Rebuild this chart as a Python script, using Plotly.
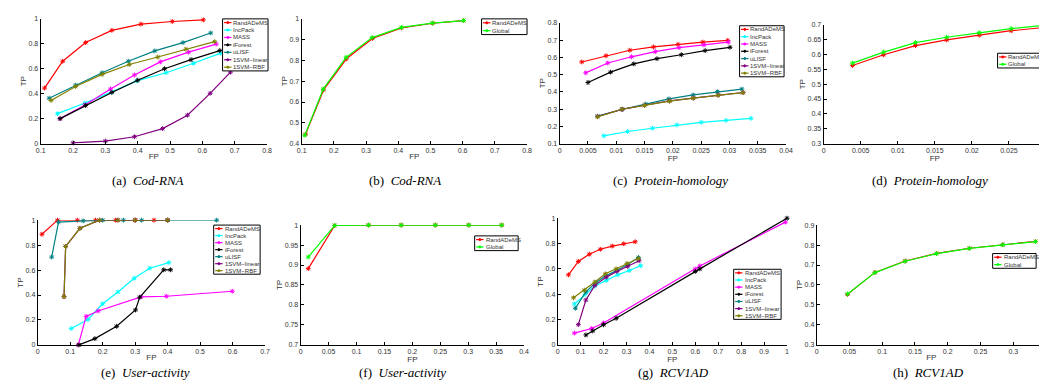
import plotly.graph_objects as go

W, H = 1047, 388

# ---------------- data ----------------
# (a) Cod-RNA
a_rand_fp = [0.112, 0.168, 0.239, 0.320, 0.410, 0.507, 0.603]
a_rand_tp = [0.445, 0.660, 0.810, 0.908, 0.958, 0.979, 0.992]
a_inc_fp = [0.152, 0.237, 0.320, 0.397, 0.488, 0.573, 0.656]
a_inc_tp = [0.240, 0.325, 0.415, 0.503, 0.568, 0.644, 0.725]
a_mass_fp = [0.160, 0.237, 0.316, 0.390, 0.470, 0.557, 0.643]
a_mass_tp = [0.200, 0.310, 0.437, 0.550, 0.655, 0.733, 0.798]
a_ifo_fp = [0.160, 0.239, 0.320, 0.400, 0.483, 0.565, 0.654]
a_ifo_tp = [0.200, 0.306, 0.410, 0.508, 0.600, 0.673, 0.746]
a_ulisf_fp = [0.126, 0.208, 0.290, 0.371, 0.453, 0.540, 0.626]
a_ulisf_tp = [0.364, 0.469, 0.568, 0.660, 0.743, 0.810, 0.887]
a_lin_fp = [0.200, 0.300, 0.390, 0.477, 0.554, 0.624, 0.687]
a_lin_tp = [0.005, 0.020, 0.055, 0.120, 0.228, 0.403, 0.573]
a_rbf_fp = [0.132, 0.208, 0.290, 0.374, 0.462, 0.549, 0.638]
a_rbf_tp = [0.346, 0.458, 0.555, 0.634, 0.694, 0.757, 0.817]

# (b) Cod-RNA
b_rand_fp = [0.112, 0.168, 0.239, 0.320, 0.410, 0.507, 0.603]
b_rand_tp = [0.445, 0.658, 0.808, 0.906, 0.957, 0.979, 0.992]
b_glob_fp = [0.110, 0.167, 0.238, 0.319, 0.410, 0.506, 0.603]
b_glob_tp = [0.440, 0.662, 0.815, 0.910, 0.959, 0.980, 0.992]

# (c) Protein-homology
c_rand_fp = [0.0039, 0.0082, 0.0124, 0.0166, 0.0209, 0.0253, 0.0297]
c_rand_tp = [0.573, 0.609, 0.641, 0.660, 0.675, 0.688, 0.698]
c_inc_fp = [0.0078, 0.0120, 0.0164, 0.0207, 0.0250, 0.0294, 0.0338]
c_inc_tp = [0.145, 0.170, 0.189, 0.208, 0.223, 0.234, 0.246]
c_mass_fp = [0.0046, 0.0085, 0.0127, 0.0169, 0.0211, 0.0255, 0.0298]
c_mass_tp = [0.510, 0.567, 0.603, 0.633, 0.656, 0.672, 0.688]
c_ifo_fp = [0.0050, 0.0090, 0.0131, 0.0172, 0.0215, 0.0257, 0.0301]
c_ifo_tp = [0.454, 0.514, 0.562, 0.592, 0.615, 0.639, 0.658]
c_ulisf_fp = [0.0067, 0.0111, 0.0152, 0.0193, 0.0236, 0.0279, 0.0322]
c_ulisf_tp = [0.259, 0.299, 0.329, 0.359, 0.382, 0.401, 0.416]
c_lin_fp = [0.0067, 0.0110, 0.0150, 0.0194, 0.0236, 0.0280, 0.0324]
c_lin_tp = [0.257, 0.298, 0.322, 0.347, 0.364, 0.381, 0.396]
c_rbf_fp = [0.0067, 0.0110, 0.0150, 0.0194, 0.0236, 0.0280, 0.0324]
c_rbf_tp = [0.255, 0.299, 0.321, 0.346, 0.363, 0.380, 0.395]

# (d) Protein-homology
d_rand_fp = [0.0039, 0.0081, 0.0124, 0.0166, 0.0210, 0.0253, 0.0298]
d_rand_tp = [0.563, 0.599, 0.630, 0.649, 0.665, 0.680, 0.691]
d_glob_fp = [0.0039, 0.0081, 0.0124, 0.0166, 0.0210, 0.0253, 0.0298]
d_glob_tp = [0.571, 0.608, 0.640, 0.658, 0.673, 0.687, 0.698]

# (e) User-activity
e_rand_fp = [0.013, 0.061, 0.122, 0.178, 0.240, 0.300, 0.358, 0.400]
e_rand_tp = [0.887, 1.000, 1.000, 1.000, 1.000, 1.000, 1.000, 1.000]
e_inc_fp = [0.103, 0.155, 0.200, 0.247, 0.297, 0.345, 0.404]
e_inc_tp = [0.131, 0.204, 0.330, 0.424, 0.534, 0.615, 0.660]
e_mass_fp = [0.125, 0.149, 0.186, 0.318, 0.396, 0.599]
e_mass_tp = [0.000, 0.228, 0.272, 0.385, 0.390, 0.430]
e_ifo_fp = [0.127, 0.176, 0.243, 0.301, 0.314, 0.388, 0.409]
e_ifo_tp = [0.000, 0.050, 0.149, 0.280, 0.382, 0.602, 0.602]
e_ulisf_fp = [0.043, 0.064, 0.140, 0.200, 0.264, 0.320, 0.400, 0.551]
e_ulisf_tp = [0.704, 0.985, 0.995, 1.000, 1.000, 1.000, 1.000, 1.000]
e_lin_fp = [0.081, 0.086, 0.130, 0.190, 0.247, 0.300, 0.400]
e_lin_tp = [0.387, 0.790, 0.935, 1.000, 1.000, 1.000, 1.000]
e_rbf_fp = [0.081, 0.086, 0.130, 0.190, 0.247, 0.300, 0.400]
e_rbf_tp = [0.387, 0.790, 0.935, 1.000, 1.000, 1.000, 1.000]

# (f) User-activity
f_rand_fp = [0.0136, 0.061, 0.1215, 0.180, 0.241, 0.301, 0.360]
f_rand_tp = [0.891, 0.999, 1.000, 1.000, 1.000, 1.000, 1.000]
f_glob_fp = [0.0136, 0.061, 0.1215, 0.180, 0.241, 0.301, 0.360]
f_glob_tp = [0.920, 0.999, 1.000, 1.000, 1.000, 1.000, 1.000]

# (g) RCV1AD
g_rand_fp = [0.047, 0.090, 0.138, 0.186, 0.238, 0.288, 0.338]
g_rand_tp = [0.553, 0.659, 0.716, 0.755, 0.780, 0.798, 0.814]
g_inc_fp = [0.073, 0.119, 0.162, 0.212, 0.262, 0.312, 0.362]
g_inc_tp = [0.323, 0.398, 0.465, 0.509, 0.553, 0.587, 0.625]
g_mass_fp = [0.073, 0.148, 0.200, 0.600, 0.620, 0.993]
g_mass_tp = [0.093, 0.129, 0.173, 0.599, 0.623, 0.969]
g_ifo_fp = [0.123, 0.153, 0.200, 0.255, 0.600, 0.620, 1.000]
g_ifo_tp = [0.078, 0.110, 0.159, 0.210, 0.580, 0.600, 1.000]
g_ulisf_fp = [0.077, 0.123, 0.165, 0.210, 0.260, 0.305, 0.352]
g_ulisf_tp = [0.289, 0.419, 0.490, 0.545, 0.590, 0.635, 0.690]
g_lin_fp = [0.090, 0.123, 0.162, 0.212, 0.258, 0.305, 0.355]
g_lin_tp = [0.160, 0.354, 0.470, 0.535, 0.580, 0.620, 0.664]
g_rbf_fp = [0.069, 0.116, 0.162, 0.208, 0.255, 0.302, 0.352]
g_rbf_tp = [0.372, 0.432, 0.496, 0.561, 0.600, 0.643, 0.682]

# (h) RCV1AD
h_rand_fp = [0.047, 0.089, 0.135, 0.183, 0.233, 0.284, 0.334]
h_rand_tp = [0.553, 0.663, 0.720, 0.758, 0.784, 0.802, 0.818]
h_glob_fp = [0.047, 0.089, 0.135, 0.183, 0.233, 0.284, 0.334]
h_glob_tp = [0.555, 0.662, 0.719, 0.757, 0.783, 0.801, 0.817]

# tick values per panel
a_xticks = [0.1, 0.2, 0.3, 0.4, 0.5, 0.6, 0.7, 0.8]
a_yticks = [0, 0.2, 0.4, 0.6, 0.8, 1]
b_xticks = [0.1, 0.2, 0.3, 0.4, 0.5, 0.6, 0.7, 0.8]
b_yticks = [0.4, 0.5, 0.6, 0.7, 0.8, 0.9, 1]
c_xticks = [0, 0.005, 0.01, 0.015, 0.02, 0.025, 0.03, 0.035, 0.04]
c_yticks = [0.1, 0.2, 0.3, 0.4, 0.5, 0.6, 0.7, 0.8]
d_xticks = [0, 0.005, 0.01, 0.015, 0.02, 0.025, 0.03]
d_yticks = [0.3, 0.35, 0.4, 0.45, 0.5, 0.55, 0.6, 0.65, 0.7]
e_xticks = [0, 0.1, 0.2, 0.3, 0.4, 0.5, 0.6, 0.7]
e_yticks = [0, 0.2, 0.4, 0.6, 0.8, 1]
f_xticks = [0, 0.05, 0.1, 0.15, 0.2, 0.25, 0.3, 0.35, 0.4]
f_yticks = [0.7, 0.75, 0.8, 0.85, 0.9, 0.95, 1]
g_xticks = [0, 0.1, 0.2, 0.3, 0.4, 0.5, 0.6, 0.7, 0.8, 0.9, 1]
g_yticks = [0, 0.2, 0.4, 0.6, 0.8, 1]
h_xticks = [0, 0.05, 0.1, 0.15, 0.2, 0.25, 0.3, 0.35]
h_yticks = [0.3, 0.4, 0.5, 0.6, 0.7, 0.8, 0.9]

COLORS = {
    "RandADeMS": "#FF0000",
    "IncPack": "#00FFFF",
    "MASS": "#FF00FF",
    "iForest": "#000000",
    "uLISF": "#008080",
    "1SVM\u2212linear": "#800080",
    "1SVM\u2212RBF": "#808000",
    "Global": "#00FF00",
}
LIN = "1SVM\u2212linear"
RBF = "1SVM\u2212RBF"

panels = [
    dict(dom=(28, 257, 7, 134), xr=(0.1, 0.8), xt=a_xticks, yr=(0, 1), yt=a_yticks,
         leg=(212, 258, 7, 60), cap="(a)", name="Cod-RNA", capx=137, capy=172,
         series=[("RandADeMS", a_rand_fp, a_rand_tp), ("IncPack", a_inc_fp, a_inc_tp),
                 ("MASS", a_mass_fp, a_mass_tp), ("iForest", a_ifo_fp, a_ifo_tp),
                 ("uLISF", a_ulisf_fp, a_ulisf_tp), (LIN, a_lin_fp, a_lin_tp),
                 (RBF, a_rbf_fp, a_rbf_tp)]),
    dict(dom=(292, 520, 7, 134), xr=(0.1, 0.8), xt=b_xticks, yr=(0.4, 1), yt=b_yticks,
         leg=(474, 520, 7, 23), cap="(b)", name="Cod-RNA", capx=397, capy=172,
         series=[("RandADeMS", b_rand_fp, b_rand_tp), ("Global", b_glob_fp, b_glob_tp)]),
    dict(dom=(553, 782, 11, 134), xr=(0, 0.04), xt=c_xticks, yr=(0.1, 0.8), yt=c_yticks,
         leg=(735, 780, 14, 66), cap="(c)", name="Protein-homology", capx=665, capy=172,
         series=[("RandADeMS", c_rand_fp, c_rand_tp), ("IncPack", c_inc_fp, c_inc_tp),
                 ("MASS", c_mass_fp, c_mass_tp), ("iForest", c_ifo_fp, c_ifo_tp),
                 ("uLISF", c_ulisf_fp, c_ulisf_tp), (LIN, c_lin_fp, c_lin_tp),
                 (RBF, c_rbf_fp, c_rbf_tp)]),
    dict(dom=(820, 1045, 13, 134), xr=(0, 0.03), xt=d_xticks, yr=(0.3, 0.7), yt=d_yticks,
         leg=(996, 1040, 42, 57), cap="(d)", name="Protein-homology", capx=928, capy=172,
         series=[("RandADeMS", d_rand_fp, d_rand_tp), ("Global", d_glob_fp, d_glob_tp)]),
    dict(dom=(25, 255, 212, 339), xr=(0, 0.7), xt=e_xticks, yr=(0, 1), yt=e_yticks,
         leg=(203, 250, 217, 267), cap="(e)", name="User-activity", capx=134, capy=367,
         series=[("RandADeMS", e_rand_fp, e_rand_tp), ("IncPack", e_inc_fp, e_inc_tp),
                 ("MASS", e_mass_fp, e_mass_tp), ("iForest", e_ifo_fp, e_ifo_tp),
                 ("uLISF", e_ulisf_fp, e_ulisf_tp), (LIN, e_lin_fp, e_lin_tp),
                 (RBF, e_rbf_fp, e_rbf_tp)]),
    dict(dom=(291, 517, 217, 339), xr=(0, 0.4), xt=f_xticks, yr=(0.7, 1), yt=f_yticks,
         leg=(467, 511, 228, 243), cap="(f)", name="User-activity", capx=394, capy=367,
         series=[("RandADeMS", f_rand_fp, f_rand_tp), ("Global", f_glob_fp, f_glob_tp)]),
    dict(dom=(551, 783, 210, 339), xr=(0, 1), xt=g_xticks, yr=(0, 1), yt=g_yticks,
         leg=(729, 777, 262, 313), cap="(g)", name="RCV1AD", capx=668, capy=367,
         series=[("RandADeMS", g_rand_fp, g_rand_tp), ("IncPack", g_inc_fp, g_inc_tp),
                 ("MASS", g_mass_fp, g_mass_tp), ("iForest", g_ifo_fp, g_ifo_tp),
                 ("uLISF", g_ulisf_fp, g_ulisf_tp), (LIN, g_lin_fp, g_lin_tp),
                 (RBF, g_rbf_fp, g_rbf_tp)]),
    dict(dom=(813, 1045, 217, 339), xr=(0, 0.35), xt=h_xticks, yr=(0.3, 0.9), yt=h_yticks,
         leg=(991, 1035, 246, 261), cap="(h)", name="RCV1AD", capx=926, capy=367,
         series=[("RandADeMS", h_rand_fp, h_rand_tp), ("Global", h_glob_fp, h_glob_tp)]),
]


def fx(p):
    return p / W


def fy(p):
    return 1 - p / H


def fmt(v):
    return f"{v:g}"


fig = go.Figure()
layout = dict(width=W, height=H, margin=dict(l=0, r=0, t=0, b=0),
              plot_bgcolor="white", paper_bgcolor="white", showlegend=False)
shapes = []
annotations = []
TICKFONT = dict(family="Liberation Sans, Arial", size=7, color="#333333")
TITLEFONT = dict(family="Liberation Sans, Arial", size=8, color="#333333")

for i, p in enumerate(panels, start=1):
    xa = "xaxis" if i == 1 else f"xaxis{i}"
    ya = "yaxis" if i == 1 else f"yaxis{i}"
    xref = "x" if i == 1 else f"x{i}"
    yref = "y" if i == 1 else f"y{i}"
    x0, x1, yt, yb = p["dom"]
    common = dict(showline=True, linecolor="black", linewidth=1, ticks="inside",
                  ticklen=3, tickcolor="black", showgrid=False, zeroline=False,
                  tickfont=TICKFONT, fixedrange=True)
    layout[xa] = dict(domain=[fx(x0), fx(x1)], anchor=yref, range=list(p["xr"]),
                      tickvals=p["xt"], ticktext=[fmt(v) for v in p["xt"]],
                      title=dict(text="FP", font=TITLEFONT, standoff=0), **common)
    layout[ya] = dict(domain=[fy(yb), fy(yt)], anchor=xref, range=list(p["yr"]),
                      tickvals=p["yt"], ticktext=[fmt(v) for v in p["yt"]],
                      title=dict(text="TP", font=TITLEFONT, standoff=0), **common)
    for name, xs, ys in p["series"]:
        c = COLORS[name]
        fig.add_trace(go.Scatter(
            x=xs, y=ys, xaxis=xref, yaxis=yref, mode="lines+markers", name=name,
            line=dict(color=c, width=1.2),
            marker=dict(symbol="asterisk-open", size=4, color=c, line=dict(color=c, width=1)),
            cliponaxis=False, showlegend=False))

    # custom compact legend (MATLAB style)
    lx0, lx1, ly0, ly1 = p["leg"]
    n = len(p["series"])
    shapes.append(dict(type="rect", xref="paper", yref="paper",
                       x0=fx(lx0), x1=fx(lx1), y0=fy(ly1), y1=fy(ly0),
                       line=dict(color="black", width=1), fillcolor="white", layer="above"))
    rowh = (ly1 - ly0) / n
    for k, (name, _, _) in enumerate(p["series"]):
        c = COLORS[name]
        cy = ly0 + rowh * (k + 0.5)
        shapes.append(dict(type="line", xref="paper", yref="paper",
                           x0=fx(lx0 + 1.5), x1=fx(lx0 + 9), y0=fy(cy), y1=fy(cy),
                           line=dict(color=c, width=1.2), layer="above"))
        shapes.append(dict(type="circle", xref="paper", yref="paper",
                           x0=fx(lx0 + 4.2), x1=fx(lx0 + 6.3), y0=fy(cy + 1.05), y1=fy(cy - 1.05),
                           line=dict(color=c, width=1), fillcolor=c, layer="above"))
        annotations.append(dict(xref="paper", yref="paper", x=fx(lx0 + 9), y=fy(cy),
                                xanchor="left", yanchor="middle", showarrow=False,
                                text=name, font=dict(family="Liberation Sans, Arial", size=6,
                                                     color="#333333")))

    annotations.append(dict(xref="paper", yref="paper", x=fx(p["capx"]), y=fy(p["capy"]),
                            xanchor="center", yanchor="middle", showarrow=False,
                            text=f"{p['cap']}  <i>{p['name']}</i>",
                            font=dict(family="Liberation Serif, Times New Roman", size=13,
                                      color="black")))

layout["shapes"] = shapes
layout["annotations"] = annotations
fig.update_layout(**layout)
fig.write_html("out.html")
